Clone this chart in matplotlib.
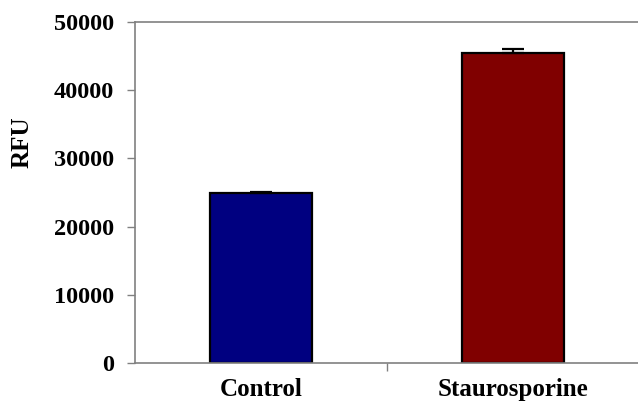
import matplotlib
matplotlib.use("Agg")
import matplotlib.pyplot as plt

categories = ["Control", "Staurosporine"]
rfu = [24950, 45400]
rfu_err = [80, 650]
bar_colors = ["#000080", "#800000"]

plt.rcParams["font.family"] = ["Liberation Serif", "DejaVu Serif"]
plt.rcParams["font.weight"] = "bold"

fig = plt.figure(figsize=(6.38, 4.03), dpi=100)
ax = fig.add_axes([0.2116, 0.0993, 0.79, 0.8461])

x = list(range(len(categories)))
ax.bar(x, rfu, width=0.405, color=bar_colors, edgecolor="black", linewidth=1.6,
       zorder=2)
ax.errorbar(x, rfu, yerr=[[0, 0], rfu_err], fmt="none", ecolor="black",
            elinewidth=1.6, capsize=8, capthick=1.6, zorder=3)

ax.set_xlim(-0.5, 1.5)
ax.set_ylim(0, 50000)
ax.set_yticks(range(0, 50001, 10000))
ax.tick_params(axis="y", direction="out", length=6, width=1, color="#808080",
               labelsize=17.5, pad=9)

# category divider tick + labels at bar centres
ax.set_xticks([0.5])
ax.set_xticklabels([""])
ax.set_xticks(x, minor=True)
ax.set_xticklabels(categories, minor=True)
ax.tick_params(axis="x", which="major", direction="out", length=6, width=1,
               color="#808080")
ax.tick_params(axis="x", which="minor", length=0, labelsize=18, pad=11)

for side in ("left", "bottom", "top"):
    ax.spines[side].set_color("#808080")
    ax.spines[side].set_linewidth(1.2)
ax.spines["right"].set_visible(False)

ax.set_ylabel("RFU", fontsize=18, fontweight="bold")
ax.yaxis.set_label_coords(-0.201, 0.648)

fig.savefig("out.png", dpi=100)
